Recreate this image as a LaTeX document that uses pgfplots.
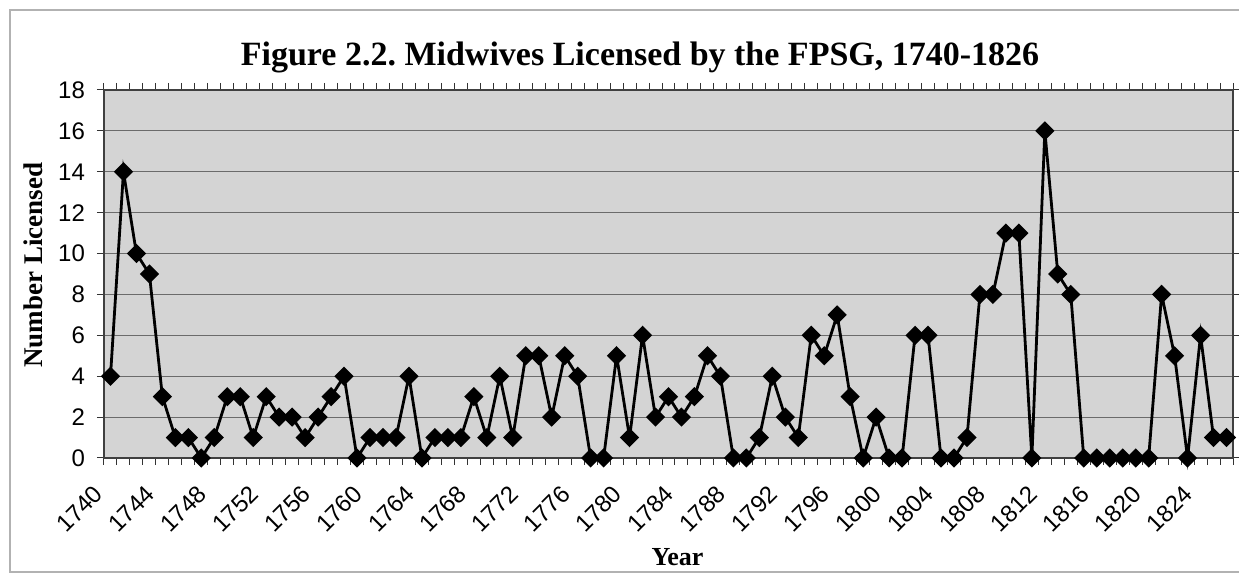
\documentclass[border=0pt]{standalone}
\usepackage{fontspec}
\setmainfont{Liberation Serif}
\setsansfont{Liberation Sans}
\usepackage{pgfplots}
\usepackage{pgfplotstable}
\pgfplotsset{compat=1.18}
\definecolor{plotbg}{gray}{0.83}
\definecolor{gridc}{gray}{0.42}
\frenchspacing
\pgfplotstableread{
year value
1740 4
1741 14
1742 10
1743 9
1744 3
1745 1
1746 1
1747 0
1748 1
1749 3
1750 3
1751 1
1752 3
1753 2
1754 2
1755 1
1756 2
1757 3
1758 4
1759 0
1760 1
1761 1
1762 1
1763 4
1764 0
1765 1
1766 1
1767 1
1768 3
1769 1
1770 4
1771 1
1772 5
1773 5
1774 2
1775 5
1776 4
1777 0
1778 0
1779 5
1780 1
1781 6
1782 2
1783 3
1784 2
1785 3
1786 5
1787 4
1788 0
1789 0
1790 1
1791 4
1792 2
1793 1
1794 6
1795 5
1796 7
1797 3
1798 0
1799 2
1800 0
1801 0
1802 6
1803 6
1804 0
1805 0
1806 1
1807 8
1808 8
1809 11
1810 11
1811 0
1812 16
1813 9
1814 8
1815 0
1816 0
1817 0
1818 0
1819 0
1820 0
1821 8
1822 5
1823 0
1824 6
1825 1
1826 1
}\datatable
\begin{document}
\frenchspacing
\begin{tikzpicture}
\useasboundingbox (0,0) rectangle (619.5pt,288pt);
\draw[gray!60, line width=0.6pt] (640pt,2pt) -- (5pt,2pt) -- (5pt,283pt) -- (640pt,283pt);
\begin{axis}[
  at={(52pt,59pt)}, anchor=south west,
  scale only axis, width=564.5pt, height=184pt,
  xmin=1739.5, xmax=1826.5, ymin=0, ymax=18,
  ytick={0,2,...,18},
  xtick={1740,1744,...,1824},
  minor xtick={1739.5,1740.5,...,1826.5},
  tick align=outside,
  major tick length=3.5pt,
  minor tick length=3.5pt,
  xtick style={draw=none},
  minor x tick style={draw=black!80, line width=0.5pt},
  ytick style={draw=black!80, line width=0.5pt},
  /pgf/number format/assume math mode=true,
  tick label style={font=\sffamily\fontsize{12}{14}\selectfont},
  x tick label style={xshift=-3.5pt, yshift=-10pt, rotate=45, anchor=east, /pgf/number format/1000 sep={}},
  y tick label style={xshift=-2.5pt},
  ymajorgrids,
  major grid style={gridc, line width=0.6pt},
  axis background/.style={fill=plotbg},
  axis line style={black!75, line width=0.6pt},
  clip=false,
  title={Figure 2.2. Midwives Licensed by the FPSG, 1740-1826},
  title style={at={(rel axis cs:0.4748,1.035)}, anchor=base, font=\bfseries\fontsize{17}{20}\selectfont},
  xlabel={Year},
  xlabel style={at={(rel axis cs:0.508,-0.269)}, anchor=center, font=\bfseries\fontsize{13}{15}\selectfont},
  ylabel={Number Licensed},
  ylabel style={at={(rel axis cs:-0.0629,0.524)}, anchor=center, font=\bfseries\fontsize{13.5}{16}\selectfont},
]
\addplot[black, line width=1.4pt, mark=square*, mark size=2.7pt,
  mark options={rotate=45, fill=black, solid}] table[x=year, y=value] {\datatable};
\end{axis}
\end{tikzpicture}
\end{document}
